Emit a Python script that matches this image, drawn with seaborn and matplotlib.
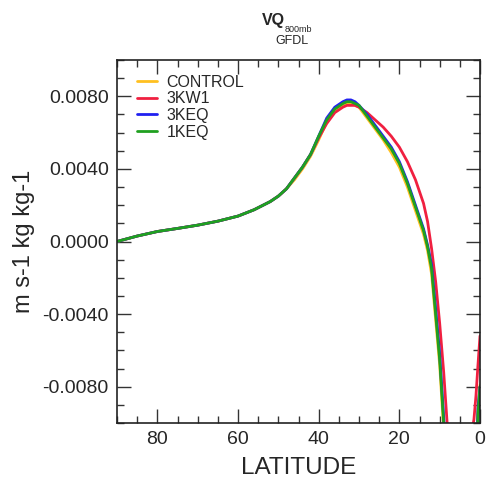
import numpy as np
import pandas as pd
import matplotlib
matplotlib.use("Agg")
import matplotlib.pyplot as plt
import seaborn as sns
from matplotlib.ticker import MultipleLocator, FormatStrFormatter

sns.set_theme(style="ticks")
plt.rcParams['font.family'] = ['Liberation Sans', 'DejaVu Sans']

lat = [90, 85, 80, 75, 70, 65, 60, 56, 52, 50, 48, 46, 44, 42, 40, 38, 36, 34, 33, 32,
       31, 30, 28, 26, 24, 22, 20, 18, 16, 14, 13, 12, 11, 10, 9, 8, 7, 6, 5, 4, 3, 2,
       1.5, 1, 0.5, 0]

control = [0.0, 0.0003, 0.00055, 0.00072, 0.0009, 0.00112, 0.0014, 0.00175, 0.0022, 0.0025,
           0.0029, 0.0034, 0.0040, 0.0047, 0.0056, 0.0066, 0.0072, 0.0075, 0.0076, 0.0076,
           0.0075, 0.0074, 0.0068, 0.0062, 0.0056, 0.0049, 0.0041, 0.0030, 0.0017, 0.0004,
           -0.0005, -0.0018, -0.0043, -0.0068, -0.0104, -0.015, -0.03, -0.03, -0.03, -0.03,
           -0.03, -0.03, -0.02, -0.0125, -0.0092, -0.0079]
kw1 = [0.0, 0.0003, 0.00055, 0.00072, 0.0009, 0.00112, 0.0014, 0.00175, 0.0022, 0.0025,
       0.0029, 0.0035, 0.0041, 0.0048, 0.0057, 0.0065, 0.0071, 0.0074, 0.0075, 0.0075,
       0.0075, 0.0074, 0.0071, 0.0067, 0.0063, 0.0058, 0.0052, 0.0044, 0.0034, 0.0021,
       0.0011, -0.0004, -0.0022, -0.0045, -0.0072, -0.0105, -0.016, -0.03, -0.03, -0.03,
       -0.03, -0.0105, -0.0098, -0.0085, -0.0068, -0.0052]
keq3 = [0.0, 0.0003, 0.00055, 0.00072, 0.0009, 0.00112, 0.0014, 0.00175, 0.0022, 0.0025,
        0.0029, 0.0035, 0.0041, 0.0048, 0.0058, 0.0068, 0.0074, 0.0077, 0.0078, 0.0078,
        0.0077, 0.0075, 0.0070, 0.0064, 0.0058, 0.0052, 0.0044, 0.0033, 0.0020, 0.0007,
        -0.0002, -0.0013, -0.0037, -0.0062, -0.0097, -0.014, -0.03, -0.03, -0.03, -0.03,
        -0.03, -0.03, -0.02, -0.0125, -0.0092, -0.0080]
keq1 = [0.0, 0.0003, 0.00055, 0.00072, 0.0009, 0.00112, 0.0014, 0.00175, 0.0022, 0.0025,
        0.0029, 0.0035, 0.0041, 0.0048, 0.0058, 0.0067, 0.0073, 0.0076, 0.0077, 0.0077,
        0.0076, 0.0075, 0.0069, 0.0063, 0.0057, 0.0051, 0.0043, 0.0032, 0.0019, 0.0006,
        -0.0003, -0.0015, -0.0040, -0.0065, -0.0100, -0.0145, -0.03, -0.03, -0.03, -0.03,
        -0.03, -0.03, -0.02, -0.013, -0.0095, -0.0080]

names = ["CONTROL", "3KW1", "3KEQ", "1KEQ"]
colors = ["#FFC020", "#F02040", "#2020F0", "#20A020"]

df = pd.concat([
    pd.DataFrame({"lat": lat, "val": v, "run": n})
    for n, v in zip(names, [control, kw1, keq3, keq1])
])

fig = plt.figure(figsize=(4.87, 4.79), dpi=100)
ax = fig.add_axes([117/487, 1-423/479, (480-117)/487, (423-60)/479])
sns.lineplot(data=df, x="lat", y="val", hue="run", hue_order=names,
             palette=colors, linewidth=2.0, ax=ax, sort=True, estimator=None)

ax.set_xlim(90, 0)
ax.set_ylim(-0.01, 0.01)
ax.xaxis.set_major_locator(MultipleLocator(20))
ax.xaxis.set_minor_locator(MultipleLocator(5))
ax.yaxis.set_major_locator(MultipleLocator(0.004))
ax.yaxis.set_minor_locator(MultipleLocator(0.001))
ax.yaxis.set_major_formatter(FormatStrFormatter('%.4f'))
ax.tick_params(which='both', direction='in', top=True, right=True,
               color='#333333', labelsize=14)
ax.tick_params(which='major', length=10, width=1.0, pad=6)
ax.tick_params(which='minor', length=5, width=1.0)
for s in ax.spines.values():
    s.set_linewidth(1.2)
    s.set_color('#222222')

ax.set_xlabel("LATITUDE", fontsize=17.5, labelpad=6)
ax.set_ylabel("m s-1 kg kg-1", fontsize=17, labelpad=5)

leg = ax.legend(loc='upper left', frameon=False, fontsize=11.5, handlelength=1.25,
                handletextpad=0.6, labelspacing=0.1, borderaxespad=0.0,
                borderpad=0.0, bbox_to_anchor=(0.055, 0.959))
for h in leg.get_lines():
    h.set_linewidth(2.0)

fig.text(273/487, 1-21/479, "VQ", fontsize=11.5, fontweight='bold',
         ha='center', va='center')
fig.text(285/487, 1-29/479, "800mb", fontsize=6.5, ha='left', va='center')
fig.text(292/487, 1-41/479, "GFDL", fontsize=9, ha='center', va='center')

fig.savefig("out.png", dpi=100)
